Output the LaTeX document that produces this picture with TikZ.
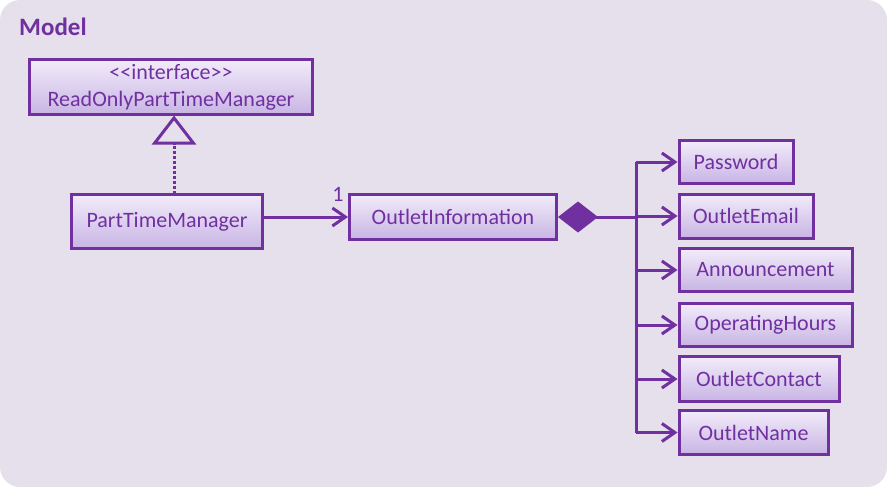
\documentclass[tikz,border=0pt]{standalone}
\usepackage{fontspec}
\setmainfont{Carlito}
\usetikzlibrary{arrows.meta}
\definecolor{bg}{RGB}{229,224,236}
\definecolor{pur}{RGB}{112,48,160}
\definecolor{boxtop}{RGB}{242,236,250}
\definecolor{boxbot}{RGB}{200,180,228}
\tikzset{
  umlbox/.style={draw=pur, line width=3pt, top color=boxtop, bottom color=boxbot,
    text=pur, font=\fontsize{22}{27}\selectfont, inner sep=0pt, align=center},
  conn/.style={draw=pur, line width=3pt},
  openarr/.style={conn, -{Straight Barb[length=13pt,width=18pt]}},
  lbl/.style={text=pur, inner sep=0pt}
}
\begin{document}
\begin{tikzpicture}[x=1pt,y=-1pt]
\useasboundingbox (0,0) rectangle (887,487);
\fill[bg, rounded corners=20pt] (0,0) rectangle (887,487);
\node[lbl, anchor=west, font=\fontsize{25}{28}\selectfont\bfseries] (model) at (19,27) {Model};

\node[umlbox, minimum width=283pt, minimum height=55pt] (iface) at (171,87) {{<}{<}interface{>}{>}\\ReadOnlyPartTimeManager};
\node[umlbox, minimum width=191pt, minimum height=54pt] (ptm) at (167,221.5) {PartTimeManager};
\node[umlbox, minimum width=207pt, minimum height=45pt] (oi) at (453,217) {OutletInformation};

\node[umlbox, anchor=west, minimum width=114pt, minimum height=43pt] (pw) at (677.5,162) {Password};
\node[umlbox, anchor=west, minimum width=134pt, minimum height=44pt] (em) at (677.5,216) {OutletEmail};
\node[umlbox, anchor=west, minimum width=173pt, minimum height=43pt] (an) at (677.5,270) {Announcement};
\node[umlbox, anchor=west, minimum width=173pt, minimum height=43pt] (oh) at (677.5,325) {OperatingHours};
\node[umlbox, anchor=west, minimum width=160pt, minimum height=45pt] (oc) at (677.5,379) {OutletContact};
\node[umlbox, anchor=west, minimum width=149pt, minimum height=44pt] (on) at (677.5,432.5) {OutletName};

% realization
\coordinate (rtop) at (174,115.5);
\coordinate (rbot) at (174,194);
\draw[conn, dash pattern=on 3pt off 2pt, -{Triangle[open,length=29pt,width=44pt,fill=bg,sep=0pt]}] (rbot) -- (rtop);

% association
\draw[openarr] (ptm.east |- oi.west) -- (oi.west);
\node[lbl, font=\fontsize{22}{24}\selectfont] (mult) at (338,194) {1};

% composition
\coordinate (j) at (636,217);
\draw[conn, {Diamond[length=40pt,width=31pt,fill=pur]}-] (oi.east) -- (j);
\draw[conn] (j |- pw) -- (j |- on);
\draw[openarr] (j |- pw) -- (pw.west);
\draw[openarr] (j |- em) -- (em.west);
\draw[openarr] (j |- an) -- (an.west);
\draw[openarr] (j |- oh) -- (oh.west);
\draw[openarr] (j |- oc) -- (oc.west);
\draw[openarr] (j |- on) -- (on.west);
\end{tikzpicture}
\end{document}
